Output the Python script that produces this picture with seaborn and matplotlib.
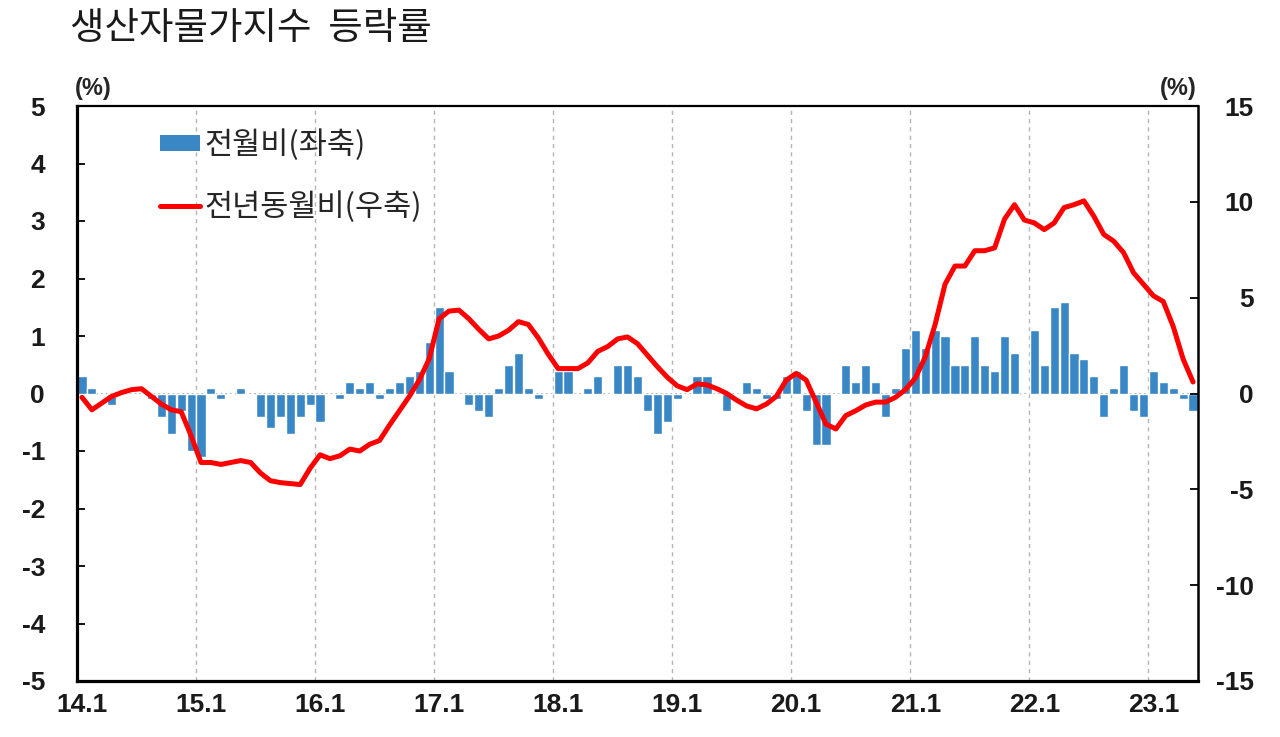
import numpy as np
import pandas as pd
import seaborn as sns
import matplotlib.pyplot as plt
from matplotlib.patches import Patch
from matplotlib.lines import Line2D

# 생산자물가지수 등락률, 2014.1 ~ 2023.5 (monthly)
mom = [0.3, 0.1, 0.0, -0.2, 0.0, 0.0, 0.0, -0.1, -0.4, -0.7, -0.3, -1.0,     # 2014
       -1.1, 0.1, -0.1, 0.0, 0.1, 0.0, -0.4, -0.6, -0.4, -0.7, -0.4, -0.2,   # 2015
       -0.5, 0.0, -0.1, 0.2, 0.1, 0.2, -0.1, 0.1, 0.2, 0.3, 0.4, 0.9,        # 2016
       1.5, 0.4, 0.0, -0.2, -0.3, -0.4, 0.1, 0.5, 0.7, 0.1, -0.1, 0.0,       # 2017
       0.4, 0.4, 0.0, 0.1, 0.3, 0.0, 0.5, 0.5, 0.3, -0.3, -0.7, -0.5,        # 2018
       -0.1, 0.0, 0.3, 0.3, 0.0, -0.3, 0.0, 0.2, 0.1, -0.1, -0.1, 0.3,       # 2019
       0.4, -0.3, -0.9, -0.9, 0.0, 0.5, 0.2, 0.5, 0.2, -0.4, 0.1, 0.8,       # 2020
       1.1, 0.8, 1.1, 1.0, 0.5, 0.5, 1.0, 0.5, 0.4, 1.0, 0.7, 0.0,           # 2021
       1.1, 0.5, 1.5, 1.6, 0.7, 0.6, 0.3, -0.4, 0.1, 0.5, -0.3, -0.4,        # 2022
       0.4, 0.2, 0.1, -0.1, -0.3]                                           # 2023

yoy = [-0.2, -0.85, -0.5, -0.15, 0.05, 0.2, 0.25, -0.15, -0.55, -0.85, -0.95, -2.2,
       -3.6, -3.6, -3.7, -3.6, -3.5, -3.6, -4.15, -4.55, -4.65, -4.7, -4.75, -3.9,
       -3.2, -3.4, -3.25, -2.9, -3.0, -2.65, -2.45, -1.65, -0.9, -0.15, 0.7, 1.8,
       3.9, 4.3, 4.35, 3.9, 3.35, 2.85, 3.0, 3.3, 3.75, 3.6, 2.9, 2.05,
       1.3, 1.3, 1.3, 1.6, 2.2, 2.45, 2.85, 2.95, 2.6, 2.0, 1.4, 0.85,
       0.4, 0.2, 0.5, 0.45, 0.25, 0.0, -0.35, -0.65, -0.8, -0.55, -0.15, 0.7,
       1.05, 0.7, -0.45, -1.6, -1.85, -1.15, -0.9, -0.6, -0.45, -0.45, -0.2, 0.2,
       0.8, 1.9, 3.6, 5.7, 6.65, 6.65, 7.45, 7.45, 7.6, 9.1, 9.85, 9.05,
       8.9, 8.55, 8.9, 9.7, 9.85, 10.05, 9.25, 8.3, 7.95, 7.35, 6.3, 5.7,
       5.1, 4.8, 3.5, 1.8, 0.6]

year_labels = ['14.1', '15.1', '16.1', '17.1', '18.1', '19.1', '20.1', '21.1', '22.1', '23.1']
left_ticks = [-5, -4, -3, -2, -1, 0, 1, 2, 3, 4, 5]
right_ticks = [-15, -10, -5, 0, 5, 10, 15]

n = len(mom)
df = pd.DataFrame({'idx': np.arange(n), 'mom': mom, 'yoy': yoy})

sns.set_theme(style='white')
plt.rcParams['font.family'] = ['Noto Sans CJK KR', 'DejaVu Sans']
plt.rcParams['axes.unicode_minus'] = False

fig = plt.figure(figsize=(12.8, 7.37), dpi=100)
ax = fig.add_axes([77 / 1280, 1 - 681 / 737, (1198 - 77) / 1280, (681 - 106) / 737])

sns.barplot(data=df, x='idx', y='mom', color='#3a87c6', saturation=1,
            width=0.92, errorbar=None, ax=ax, zorder=2)

ax2 = ax.twinx()
sns.lineplot(data=df, x='idx', y='yoy', color='#ff0000', lw=3.6, ax=ax2)

ax.set_xlim(-0.5, n - 0.5)
ax.set_ylim(-5, 5)
ax2.set_ylim(-15, 15)

# year separators and zero line
for k in range(1, 10):
    ax.axvline(12 * k - 0.5, color='#b4b4b4', lw=1, ls=(0, (3, 3)), zorder=0)
ax.axhline(0, color='#a8a8a8', lw=1.3, ls=':', zorder=1)

tick_font = dict(family='Liberation Sans', fontweight='bold', fontsize=19, color='#1a1a1a')
ax.set_xticks(np.arange(0, n, 12), labels=year_labels, **tick_font)
ax.set_yticks(left_ticks, labels=[str(t) for t in left_ticks], **tick_font)
ax2.set_yticks(right_ticks, labels=[str(t) for t in right_ticks], ha='right', **tick_font)
ax.tick_params(axis='x', length=0, pad=9)
ax.tick_params(axis='y', direction='in', length=6, width=1.3, color='black', pad=23, left=True)
ax2.tick_params(axis='y', direction='in', length=6, width=1.3, color='black', pad=40, right=True)
ax.set_xlabel('')
ax.set_ylabel('')
ax2.set_ylabel('')

for s in ['left', 'bottom']:
    ax.spines[s].set_linewidth(2.3)
    ax.spines[s].set_color('black')
ax.spines['top'].set_linewidth(1.6)
ax.spines['top'].set_color('black')
ax.spines['right'].set_visible(False)
for s in ['left', 'bottom', 'top']:
    ax2.spines[s].set_visible(False)
ax2.spines['right'].set_linewidth(1.8)
ax2.spines['right'].set_color('black')

fig.text(70 / 1280, 1 - 29 / 737, '생산자물가지수  등락률', fontsize=27, va='center', ha='left', color='#1a1a1a')
fig.text(75 / 1280, 1 - 88 / 737, '(%)', family='Liberation Sans', fontweight='bold', fontsize=17, va='center')
fig.text(1197 / 1280, 1 - 88 / 737, '(%)', family='Liberation Sans', fontweight='bold', fontsize=17, va='center', ha='right')

handles = [Patch(facecolor='#3a87c6', edgecolor='none'), Line2D([], [], color='#ff0000', lw=3.6)]
fig.legend(handles, ['전월비(좌축)', '전년동월비(우축)'], loc='upper left',
           bbox_to_anchor=(160 / 1280, 1 - 129 / 737), frameon=False, fontsize=22,
           handlelength=1.3, handleheight=0.45, handletextpad=0.15, labelspacing=1.0,
           borderpad=0, borderaxespad=0)

fig.savefig('out.png', dpi=100)
